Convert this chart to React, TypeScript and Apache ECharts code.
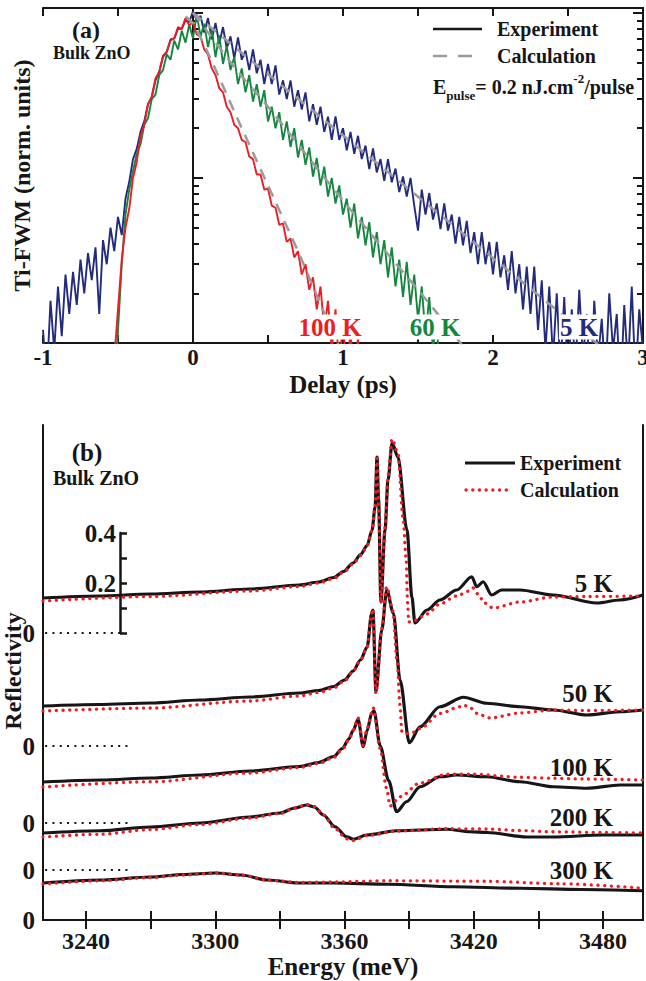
import React, { useEffect, useRef } from "react";
import * as echarts from "echarts";

const FONT = '"Liberation Serif", "Times New Roman", serif';
const BLUE = "#232b7c";
const GREEN = "#14873f";
const RED = "#ee1d24";
const GRAY = "#9b9b9b";
const INK = "#161616";

// ---------------- Panel (a): Ti-FWM traces (normalized, log scale) ----------------
const delayStep = 0.025; // ps between samples
const start5K = -1;
const start60K = -0.525;
const start100K = -0.55;

const fwm5K = [
  0.012, 0.006, 0.018, 0.009, 0.022, 0.011, 0.026, 0.015, 0.027, 0.017,
  0.032, 0.02, 0.035, 0.024, 0.038, 0.015, 0.042, 0.03, 0.05, 0.036,
  0.058, 0.045, 0.075, 0.095, 0.13, 0.15, 0.19, 0.22, 0.28, 0.31,
  0.39, 0.44, 0.54, 0.58, 0.69, 0.7, 0.8, 0.8, 0.9, 0.88,
  1.02, 0.9, 0.96, 0.76, 0.93, 0.69, 0.87, 0.65, 0.82, 0.61,
  0.72, 0.53, 0.71, 0.52, 0.59, 0.45, 0.6, 0.43, 0.52, 0.37,
  0.49, 0.37, 0.48, 0.32, 0.39, 0.3, 0.39, 0.27, 0.34, 0.26,
  0.33, 0.22, 0.28, 0.21, 0.27, 0.19, 0.235, 0.17, 0.236, 0.17,
  0.2, 0.147, 0.19, 0.14, 0.18, 0.13, 0.157, 0.113, 0.151, 0.108,
  0.13, 0.096, 0.13, 0.094, 0.114, 0.082, 0.102, 0.077, 0.1, 0.068,
  0.048, 0.085, 0.06, 0.081, 0.056, 0.07, 0.049, 0.07, 0.048, 0.06,
  0.04, 0.058, 0.039, 0.055, 0.035, 0.047, 0.03, 0.047, 0.03, 0.041,
  0.026, 0.041, 0.025, 0.034, 0.021, 0.036, 0.02, 0.03, 0.016, 0.029,
  0.015, 0.029, 0.012, 0.024, 0.009, 0.022, 0.008, 0.02, 0.007, 0.019,
  0.006, 0.016, 0.007, 0.021, 0.008, 0.015, 0.005, 0.018, 0.008, 0.014,
  0.006, 0.02, 0.009, 0.015, 0.005, 0.017, 0.007, 0.022, 0.006, 0.016,
  0.009,
];

const fwm60K = [
  0.004, 0.012, 0.03, 0.06, 0.085, 0.11, 0.14, 0.16, 0.21, 0.23,
  0.3, 0.32, 0.42, 0.45, 0.56, 0.52, 0.68, 0.6, 0.78, 0.66,
  0.85, 0.7, 0.98, 0.72, 0.86, 0.62, 0.8, 0.54, 0.73, 0.49,
  0.63, 0.45, 0.54, 0.37, 0.46, 0.33, 0.42, 0.29, 0.37, 0.27,
  0.34, 0.22, 0.27, 0.2, 0.25, 0.17, 0.22, 0.154, 0.2, 0.133,
  0.17, 0.12, 0.153, 0.102, 0.132, 0.09, 0.117, 0.077, 0.1, 0.07,
  0.09, 0.06, 0.075, 0.05, 0.07, 0.043, 0.058, 0.039, 0.054, 0.033,
  0.047, 0.03, 0.042, 0.025, 0.038, 0.022, 0.032, 0.019, 0.031, 0.017,
  0.026, 0.014, 0.022, 0.011, 0.019, 0.009, 0.015, 0.004,
];

const fwm100K = [
  0.004, 0.008, 0.016, 0.032, 0.05, 0.065, 0.1, 0.125, 0.18, 0.21,
  0.28, 0.31, 0.4, 0.44, 0.55, 0.58, 0.68, 0.7, 0.82, 0.8,
  0.93, 0.84, 0.88, 0.74, 0.72, 0.6, 0.56, 0.46, 0.42, 0.35,
  0.33, 0.27, 0.25, 0.21, 0.2, 0.17, 0.165, 0.135, 0.13, 0.105,
  0.105, 0.085, 0.086, 0.068, 0.066, 0.052, 0.053, 0.041, 0.043, 0.033,
  0.036, 0.026, 0.03, 0.021, 0.025, 0.016, 0.022, 0.012, 0.018, 0.009,
  0.016, 0.007, 0.014, 0.006, 0.012, 0.005, 0.011, 0.004,
];

const calc5K = [[0, 1.0], [0.5, 0.425], [1, 0.181], [1.5, 0.077], [2, 0.0327], [2.5, 0.0139], [2.7, 0.0098]];
const calc60K = [[0, 1.0], [0.1, 0.76], [0.3, 0.44], [0.5, 0.27], [0.75, 0.14], [1.0, 0.073], [1.25, 0.039], [1.5, 0.021], [1.75, 0.011], [1.8, 0.0095]];
const calc100K = [[-0.05, 0.95], [0, 0.86], [0.1, 0.57], [0.2, 0.36], [0.3, 0.225], [0.4, 0.142], [0.5, 0.09], [0.6, 0.057], [0.7, 0.036], [0.8, 0.022], [0.9, 0.0135], [0.97, 0.0098]];

const logMinorTicks = [0.02, 0.03, 0.04, 0.05, 0.06, 0.07, 0.08, 0.09, 0.2, 0.3, 0.4, 0.5, 0.6, 0.7, 0.8, 0.9];
const logMajorTicks = [0.01, 0.1, 1];

// ---------------- Panel (b): reflectivity spectra ----------------
const temps = ["5 K", "50 K", "100 K", "200 K", "300 K"];
const zeroOffsets = [1.148, 0.696, 0.388, 0.2, 0];
const energyTicks = [3240, 3270, 3300, 3330, 3360, 3390, 3420, 3450, 3480];
const energyLabels = [3240, 3300, 3360, 3420, 3480];

const refl5KExp = [
  [3220, 0.14], [3246, 0.148], [3270, 0.156], [3293, 0.164], [3316, 0.176], [3339, 0.192], [3348, 0.204], [3355, 0.222],
  [3359.5, 0.246], [3364, 0.28], [3367.5, 0.314], [3370.5, 0.35], [3372.8, 0.412], [3374.2, 0.504], [3375.1, 0.704],
  [3375.8, 0.54], [3376.9, 0.124], [3378.8, 0.412], [3380.2, 0.612], [3382.1, 0.76], [3384.8, 0.704], [3389.0, 0.412],
  [3391.3, 0.144], [3392.7, 0.04], [3398.3, 0.092], [3404.3, 0.132], [3412.1, 0.172], [3419.1, 0.225], [3421.4, 0.185],
  [3424.4, 0.205], [3428.3, 0.152], [3433, 0.172], [3441.5, 0.172], [3456.8, 0.152], [3477.2, 0.12], [3487.9, 0.132],
  [3498.6, 0.152],
];
const refl5KCalc = [
  [3220, 0.128], [3270, 0.146], [3316, 0.168], [3339, 0.186], [3348, 0.2], [3355, 0.218], [3359.5, 0.243], [3364, 0.276],
  [3367.5, 0.31], [3370.5, 0.348], [3372.8, 0.41], [3374.2, 0.5], [3375.1, 0.7], [3375.8, 0.54], [3376.9, 0.12],
  [3378.8, 0.42], [3380.2, 0.63], [3382.1, 0.776], [3384.8, 0.72], [3387.2, 0.46], [3388.6, 0.3], [3389.3, 0.12],
  [3389.8, 0.044], [3392.5, 0.05], [3398.3, 0.076], [3404.3, 0.116], [3412, 0.148], [3418, 0.168], [3419.7, 0.18],
  [3422, 0.156], [3425, 0.12], [3429, 0.1], [3441.5, 0.124], [3456.8, 0.144], [3472.6, 0.146], [3498.6, 0.148],
];
const refl50KExp = [
  [3220, 0.16], [3246, 0.166], [3270, 0.172], [3293, 0.184], [3316, 0.196], [3339, 0.212], [3348, 0.222], [3355, 0.238],
  [3360, 0.264], [3364, 0.3], [3367.5, 0.345], [3370.5, 0.396], [3372.6, 0.53], [3373.2, 0.544], [3374.6, 0.217],
  [3377.3, 0.464], [3379.6, 0.624], [3382.7, 0.531], [3385.8, 0.264], [3390.1, 0.013], [3395.1, 0.077], [3404.3, 0.157],
  [3415.2, 0.195], [3426, 0.171], [3441.5, 0.157], [3457, 0.144], [3472.4, 0.124], [3487.9, 0.137], [3498.6, 0.144],
];
const refl50KCalc = [
  [3220, 0.14], [3270, 0.152], [3316, 0.18], [3339, 0.2], [3348, 0.214], [3355, 0.232], [3360, 0.26], [3364, 0.298],
  [3367.5, 0.345], [3370.5, 0.396], [3372.6, 0.53], [3373.2, 0.548], [3374.6, 0.21], [3377.3, 0.47], [3379.6, 0.637],
  [3382.5, 0.54], [3384.4, 0.34], [3385.8, 0.16], [3386.6, 0.06], [3388, 0.048], [3392, 0.055], [3395.1, 0.07],
  [3404.3, 0.13], [3413.6, 0.157], [3415.2, 0.164], [3419, 0.15], [3422, 0.128], [3427.5, 0.112], [3441.5, 0.132],
  [3456.8, 0.144], [3472.6, 0.142], [3498.6, 0.144],
];
const refl100KExp = [
  [3220, 0.164], [3247, 0.172], [3270, 0.18], [3293, 0.192], [3316, 0.208], [3339, 0.226], [3348, 0.242], [3355, 0.266],
  [3359, 0.298], [3362, 0.336], [3364, 0.37], [3366.3, 0.415], [3368.7, 0.305], [3370.5, 0.37], [3372.6, 0.439],
  [3373.7, 0.449], [3376.5, 0.31], [3380.5, 0.17], [3384.2, 0.045], [3388.8, 0.085], [3395.1, 0.145], [3404.3, 0.185],
  [3412, 0.192], [3426, 0.185], [3441.5, 0.165], [3457, 0.145], [3472.4, 0.139], [3487.9, 0.152], [3498.6, 0.152],
];
const refl100KCalc = [
  [3220, 0.144], [3270, 0.165], [3316, 0.2], [3339, 0.222], [3348, 0.238], [3355, 0.262], [3359, 0.295], [3362, 0.333],
  [3364, 0.37], [3366.3, 0.42], [3368.7, 0.31], [3370.5, 0.38], [3373.4, 0.46], [3376.5, 0.3], [3379.5, 0.14],
  [3381.2, 0.068], [3385.8, 0.105], [3395.1, 0.16], [3407.5, 0.195], [3420, 0.195], [3441.5, 0.183], [3457, 0.179],
  [3472.4, 0.176], [3498.6, 0.172],
];
const refl200KExp = [
  [3220, 0.148], [3246.5, 0.157], [3270, 0.172], [3293, 0.188], [3316, 0.212], [3330, 0.228], [3337, 0.248],
  [3342.4, 0.26], [3346, 0.252], [3350.2, 0.22], [3355.6, 0.173], [3361, 0.133], [3364.1, 0.123], [3370.3, 0.14],
  [3384.2, 0.157], [3407.5, 0.163], [3418.3, 0.153], [3426.2, 0.15], [3444.7, 0.132], [3456.8, 0.132], [3480, 0.14],
  [3498.6, 0.14],
];
const refl200KCalc = [
  [3220, 0.132], [3246.5, 0.143], [3270, 0.162], [3293, 0.182], [3316, 0.208], [3330, 0.226], [3337, 0.248],
  [3342.4, 0.262], [3346, 0.254], [3350.2, 0.22], [3355.6, 0.165], [3361, 0.125], [3364.1, 0.118], [3370.3, 0.138],
  [3384.2, 0.156], [3407.5, 0.165], [3426, 0.164], [3441, 0.158], [3457, 0.153], [3480, 0.15], [3498.6, 0.148],
];
const refl300KExp = [
  [3220, 0.148], [3246.5, 0.16], [3270, 0.172], [3285, 0.182], [3300, 0.188], [3312, 0.18], [3324, 0.16], [3339, 0.148],
  [3355, 0.148], [3380, 0.143], [3410.5, 0.133], [3441.5, 0.127], [3470, 0.122], [3498.6, 0.117],
];
const refl300KCalc = [
  [3220, 0.144], [3246.5, 0.157], [3270, 0.17], [3285, 0.18], [3300, 0.188], [3312, 0.18], [3324, 0.16], [3339, 0.15],
  [3355, 0.152], [3380, 0.157], [3426, 0.155], [3460, 0.145], [3498.6, 0.127],
];
const reflExp = [refl5KExp, refl50KExp, refl100KExp, refl200KExp, refl300KExp];
const reflCalc = [refl5KCalc, refl50KCalc, refl100KCalc, refl200KCalc, refl300KCalc];
const scaleBarTicks = [0.2, 0.4];

const bold = (size: number) => `bold ${size}px ${FONT}`;

function buildOption() {
  const trace = (vals: number[], start: number) => vals.map((v, i) => [+(start + i * delayStep).toFixed(3), v]);
  const axisLine = { lineStyle: { color: INK, width: 2 } };
  const tickStyle = { color: INK, width: 2 };

  const series: any[] = [];
  const fwm = [
    { data: trace(fwm5K, start5K), color: BLUE },
    { data: trace(fwm60K, start60K), color: GREEN },
    { data: trace(fwm100K, start100K), color: RED },
  ];
  fwm.forEach((f) =>
    series.push({
      type: "line", xAxisIndex: 0, yAxisIndex: 0, data: f.data, symbol: "none", clip: true,
      lineStyle: { color: f.color, width: 1.9 }, z: 2,
    })
  );
  [calc5K, calc60K, calc100K].forEach((c) =>
    series.push({
      type: "line", xAxisIndex: 0, yAxisIndex: 0, data: c, symbol: "none", smooth: 0.3, clip: true,
      lineStyle: { color: GRAY, width: 2.5, type: [11, 8] }, z: 3,
    })
  );

  reflExp.forEach((d, k) =>
    series.push({
      type: "line", xAxisIndex: 2, yAxisIndex: 4, symbol: "none", smooth: 0.3, smoothMonotone: "x", clip: true,
      data: d.map(([e, r]) => [e, r + zeroOffsets[k]]),
      lineStyle: { color: INK, width: 3.2 }, z: 2,
    })
  );
  reflCalc.forEach((d, k) =>
    series.push({
      type: "line", xAxisIndex: 2, yAxisIndex: 4, symbol: "none", smooth: 0.3, smoothMonotone: "x", clip: true,
      data: d.map(([e, r]) => [e, r + zeroOffsets[k]]),
      lineStyle: { color: RED, width: 3.3, type: [0.1, 6.6], cap: "round" }, z: 3,
    })
  );
  // dotted zero references
  zeroOffsets.slice(0, 4).forEach((z, k) =>
    series.push({
      type: "line", xAxisIndex: 2, yAxisIndex: 4, symbol: "none", clip: false,
      data: [[3221, z], [k === 0 ? 3256 : 3259.5, z]],
      lineStyle: { color: INK, width: 2.2, type: [2, 5.3] }, z: 2,
    })
  );

  const txt = (text: string, x: number, y: number, size: number, color = INK, align = "left", extra: any = {}) => ({
    type: "text", x, y, z: 100,
    style: {
      text, font: bold(size), fill: color, align, verticalAlign: "middle",
      textAlign: align, textVerticalAlign: "middle", ...extra,
    },
  });

  const graphic: any[] = [
    txt("(a)", 86, 30, 24, INK, "center"),
    txt("Bulk ZnO", 53, 53, 18),
    { type: "line", z: 100, shape: { x1: 433, y1: 29, x2: 482, y2: 29 }, style: { stroke: INK, lineWidth: 2.5 } },
    txt("Experiment", 497, 29, 20),
    { type: "line", z: 100, shape: { x1: 433, y1: 56, x2: 474, y2: 56 }, style: { stroke: GRAY, lineWidth: 2.5, lineDash: [14, 11] } },
    txt("Calculation", 497, 56, 20),
    {
      type: "text", x: 433, y: 87, z: 100,
      style: {
        text: "{m|E}{s|pulse}{m|= 0.2 nJ.cm}{p|-2}{m|/pulse}",
        verticalAlign: "middle", textVerticalAlign: "middle",
        rich: {
          m: { font: bold(20), fill: INK, lineHeight: 30, verticalAlign: "middle" },
          s: { font: bold(13), fill: INK, lineHeight: 12, verticalAlign: "bottom" },
          p: { font: bold(13), fill: INK, lineHeight: 20, verticalAlign: "top" },
        },
      },
    },
    txt("100 K", 330, 327, 25, RED, "center", { backgroundColor: "#fff", padding: [0, 1] }),
    txt("60 K", 435, 327, 25, GREEN, "center", { backgroundColor: "#fff", padding: [0, 1] }),
    txt("5 K", 579, 327, 25, BLUE, "center", { backgroundColor: "#fff", padding: [0, 1] }),

    txt("(b)", 87, 452, 25, INK, "center"),
    txt("Bulk ZnO", 53, 478, 20),
    { type: "line", z: 100, shape: { x1: 465, y1: 463, x2: 515, y2: 463 }, style: { stroke: INK, lineWidth: 3.2 } },
    txt("Experiment", 520, 463, 20),
    { type: "line", z: 100, shape: { x1: 466, y1: 490, x2: 510, y2: 490 }, style: { stroke: RED, lineWidth: 3.3, lineDash: [0.1, 6.6], lineCap: "round" } },
    txt("Calculation", 520, 490, 20),
    { ...txt("Reflectivity", 13, 671, 24, INK, "center"), rotation: Math.PI / 2 },
  ];
  const tempLabelY = [583, 693, 767, 817, 870];
  temps.forEach((t, k) => graphic.push(txt(t, 613, tempLabelY[k], 25, INK, "right")));

  const nameStyle = (size: number) => ({ fontSize: size, fontWeight: "bold", fontFamily: FONT, color: INK });
  const labelStyle = { fontSize: 24, fontWeight: "bold", fontFamily: FONT, color: INK };
  const gridBase = { containLabel: false, outerBoundsMode: "none" };

  return {
    animation: false,
    backgroundColor: "#fff",
    grid: [
      { ...gridBase, left: 43, top: 8, right: 3, height: 335 },
      { ...gridBase, left: 43, top: 425, right: 3, height: 495 },
      { ...gridBase, left: 120, top: 533, width: 10, height: 100 },
    ],
    xAxis: [
      {
        gridIndex: 0, type: "value", min: -1, max: 3, interval: 0.5, position: "bottom",
        axisLine, axisTick: { inside: true, length: 8, lineStyle: tickStyle },
        axisLabel: { ...labelStyle, fontSize: 23, margin: 3, formatter: (v: number) => (Number.isInteger(v) ? String(v) : "") },
        splitLine: { show: false },
        name: "Delay (ps)", nameLocation: "middle", nameGap: 29, nameMoveOverlap: false, nameTextStyle: nameStyle(25),
      },
      {
        gridIndex: 0, type: "value", min: -1, max: 3, interval: 0.5, position: "top",
        axisLine, axisTick: { inside: true, length: 8, lineStyle: tickStyle },
        axisLabel: { show: false }, splitLine: { show: false },
      },
      {
        gridIndex: 1, type: "value", min: 3220, max: 3498.6, position: "bottom",
        axisLine, axisTick: { inside: true, length: 9, lineStyle: tickStyle, customValues: energyTicks },
        axisLabel: { ...labelStyle, margin: 9, customValues: energyLabels, formatter: (v: number) => String(v) },
        splitLine: { show: false },
        name: "Energy (meV)", nameLocation: "middle", nameGap: 34, nameMoveOverlap: false, nameTextStyle: nameStyle(25),
      },
      {
        gridIndex: 1, type: "value", min: 3220, max: 3498.6, position: "top",
        axisLine, axisTick: { inside: true, length: 9, lineStyle: tickStyle, customValues: energyTicks },
        axisLabel: { show: false }, splitLine: { show: false },
      },
      { gridIndex: 2, type: "value", min: 0, max: 1, show: false },
    ],
    yAxis: [
      {
        gridIndex: 0, type: "log", logBase: 10, min: 0.01, max: 1.07, position: "left",
        axisLine, axisTick: { inside: true, length: 6, lineStyle: tickStyle, customValues: logMinorTicks },
        axisLabel: { show: false }, splitLine: { show: false },
        name: "Ti-FWM (norm. units)", nameLocation: "middle", nameGap: 9, nameRotate: 90, nameMoveOverlap: false,
        nameTextStyle: nameStyle(24),
      },
      {
        gridIndex: 0, type: "log", logBase: 10, min: 0.01, max: 1.07, position: "left",
        axisLine: { show: false }, axisTick: { inside: true, length: 10, lineStyle: tickStyle, customValues: logMajorTicks },
        axisLabel: { show: false }, splitLine: { show: false },
      },
      {
        gridIndex: 0, type: "log", logBase: 10, min: 0.01, max: 1.07, position: "right",
        axisLine, axisTick: { inside: true, length: 6, lineStyle: tickStyle, customValues: logMinorTicks },
        axisLabel: { show: false }, splitLine: { show: false },
      },
      {
        gridIndex: 0, type: "log", logBase: 10, min: 0.01, max: 1.07, position: "right",
        axisLine: { show: false }, axisTick: { inside: true, length: 10, lineStyle: tickStyle, customValues: logMajorTicks },
        axisLabel: { show: false }, splitLine: { show: false },
      },
      {
        gridIndex: 1, type: "value", min: 0, max: 1.98, position: "left",
        axisLine, axisTick: { show: false },
        axisLabel: { ...labelStyle, fontSize: 25, margin: 8, customValues: zeroOffsets, formatter: () => "0" },
        splitLine: { show: false },
      },
      {
        gridIndex: 1, type: "value", min: 0, max: 1.98, position: "right",
        axisLine, axisTick: { show: false }, axisLabel: { show: false }, splitLine: { show: false },
      },
      {
        gridIndex: 2, type: "value", min: 0, max: 0.4, interval: 0.1, position: "left",
        axisLine: { lineStyle: { color: INK, width: 2.5 } },
        axisTick: { inside: true, length: 7, lineStyle: { color: INK, width: 2.5 } },
        axisLabel: {
          ...labelStyle, fontSize: 25, margin: 4,
          formatter: (v: number) => (scaleBarTicks.some((t) => Math.abs(t - v) < 1e-6) ? v.toFixed(1) : ""),
        },
        splitLine: { show: false },
      },
    ],
    series,
    graphic,
  };
}

export default function App() {
  const ref = useRef<HTMLDivElement>(null);
  useEffect(() => {
    if (!ref.current) return;
    const chart = echarts.init(ref.current, undefined, { renderer: "svg" });
    chart.setOption(buildOption() as any);
    return () => chart.dispose();
  }, []);
  return (
    <div
      ref={ref}
      style={{ position: "absolute", left: 0, top: 0, width: 646, height: 981, background: "#fff" }}
    />
  );
}
